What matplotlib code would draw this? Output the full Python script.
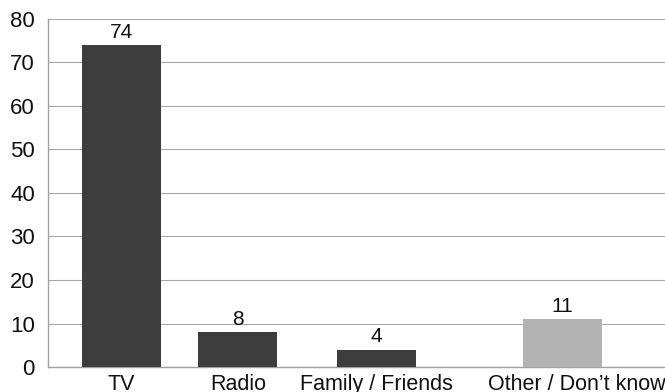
#!/usr/bin/env python3
"""
Main source of information - bar chart
"""

import matplotlib
matplotlib.use('Agg')
import matplotlib.pyplot as plt

categories = ['TV', 'Radio', 'Family / Friends', 'Other / Don\u2019t know']
values = [74, 8, 4, 11]
bar_colors = ['#3d3d3d', '#3d3d3d', '#3d3d3d', '#b3b3b3']
y_ticks = [0, 10, 20, 30, 40, 50, 60, 70, 80]

# layout: bar centres and label centres (in bar-slot units)
bar_pos = [0, 1, 2.19, 3.79]
label_pos = [0, 1, 2.19, 3.91]

plt.rcParams['font.family'] = ['Liberation Sans', 'DejaVu Sans']

fig = plt.figure(figsize=(6.65, 3.92), dpi=100)
ax = fig.add_axes([48 / 665, 25 / 392, 1 - 48 / 665, 348 / 392])

bars = ax.bar(bar_pos, values, width=0.68, color=bar_colors, zorder=3)

for b, v in zip(bars, values):
    ax.text(b.get_x() + b.get_width() / 2, v + 0.8, str(v),
            ha='center', va='bottom', fontsize=15, color='#111111')

ax.set_xlim(-0.63, 4.67)
ax.set_ylim(0, 80)
ax.set_yticks(y_ticks)
ax.set_xticks(label_pos)
ax.set_xticklabels(categories)
ax.tick_params(axis='both', length=0, labelsize=15.5, colors='#111111')
ax.tick_params(axis='y', labelsize=16, pad=9.5)
ax.tick_params(axis='x', pad=5)

ax.grid(axis='y', color='#a8a8a8', linewidth=0.8, zorder=0)
ax.set_axisbelow(True)
for side in ['top', 'right']:
    ax.spines[side].set_visible(False)
for side in ['left', 'bottom']:
    ax.spines[side].set_color('#a0a0a0')
    ax.spines[side].set_linewidth(1.0)

fig.savefig('out.png', dpi=100)
plt.close(fig)
